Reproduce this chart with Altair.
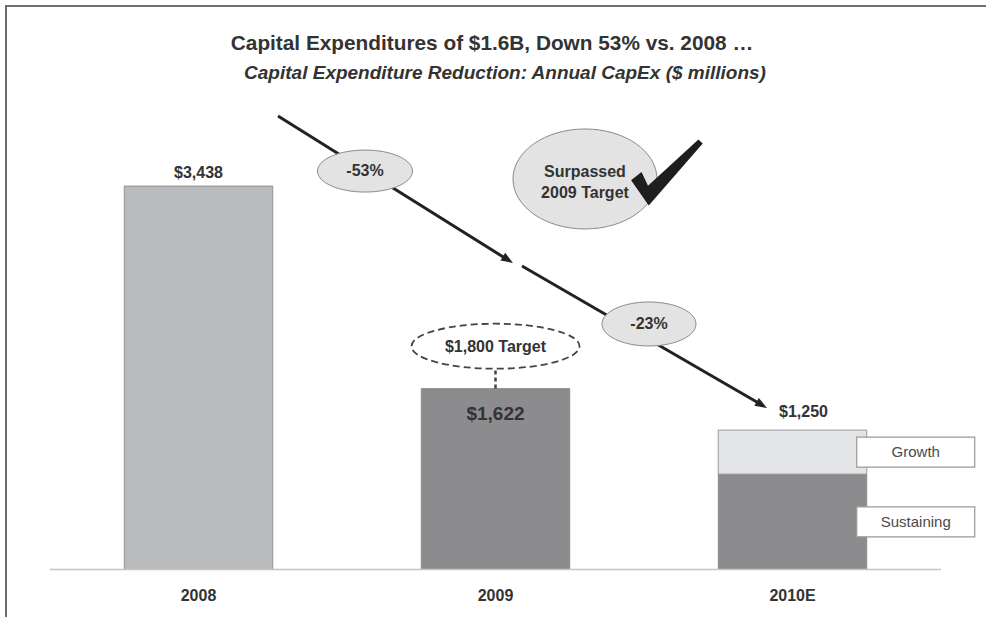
import altair as alt
import pandas as pd

# ---------------- data ----------------
categories = ["2008", "2009", "2010E"]
segment_category = ["2008", "2009", "2010E", "2010E"]
segment_names = ["2008", "2009", "Sustaining", "Growth"]
segment_values = [3438, 1622, 855, 395]
total_values = [3438, 1622, 1250]
total_labels = ["$3,438", "$1,622", "$1,250"]
target_value = 1800
target_label = "$1,800 Target"
change_labels = ["-53%", "-23%"]
legend_names = ["Growth", "Sustaining"]
title_text = "Capital Expenditures of $1.6B, Down 53% vs. 2008 \u2026"
subtitle_text = "Capital Expenditure Reduction: Annual CapEx ($ millions)"
callout_lines = ["Surpassed", "2009 Target"]

# ---------------- tables ----------------
idx = {c: i for i, c in enumerate(categories)}
rows, run = [], {}
for cat, name, val in zip(segment_category, segment_names, segment_values):
    s = run.get(cat, 0)
    rows.append(dict(category=cat, segment=name, idx=idx[cat], start=s, end=s + val,
                     mid=s + val / 2, left=idx[cat] - 0.25, right=idx[cat] + 0.25))
    run[cat] = s + val
seg_df = pd.DataFrame(rows)
tot_df = pd.DataFrame(dict(category=categories, idx=list(range(len(categories))),
                           total=total_values, label=total_labels))
tgt_df = pd.DataFrame(dict(category=["2009"], idx=[idx["2009"]],
                           actual=[total_values[1]], target=[target_value], label=[target_label]))
leg_df = seg_df[seg_df.segment.isin(legend_names)]
one = pd.DataFrame({"k": [0]})

FONT = "Liberation Sans"
TXT = "#333333"
xs = alt.Scale(domain=[-0.5, 2.5], range=[50, 941], nice=False, zero=False)
ys = alt.Scale(domain=[0, 3438], range=[569.5, 186], nice=False, zero=False)


def X(f):
    return alt.X(f, type="quantitative", scale=xs, axis=None)


def Y(f):
    return alt.Y(f, type="quantitative", scale=ys, axis=None)


def XD(v):
    return alt.XDatum(v, scale=xs, axis=None)


def YD(v):
    return alt.YDatum(v, scale=ys, axis=None)


def ellipse(rx_ratio):
    return f"M -1 0 A 1 {rx_ratio} 0 1 1 1 0 A 1 {rx_ratio} 0 1 1 -1 0 Z"


layers = []

# frame lines
layers.append(alt.Chart(one).mark_rule(color="#6e6e6e", strokeWidth=2).encode(
    x=alt.value(5), x2=alt.value(986), y=alt.value(6)))
layers.append(alt.Chart(one).mark_rule(color="#6e6e6e", strokeWidth=2).encode(
    x=alt.value(6), y=alt.value(5), y2=alt.value(617)))

# titles
layers.append(alt.Chart(one).mark_text(text=title_text, font=FONT, fontSize=20.8, fontWeight="bold",
                                       color=TXT, align="center", baseline="middle").encode(
    x=alt.value(492), y=alt.value(44)))
layers.append(alt.Chart(one).mark_text(text=subtitle_text, font=FONT, fontSize=19, fontWeight="bold",
                                       fontStyle="italic", color=TXT, align="center",
                                       baseline="middle").encode(
    x=alt.value(505), y=alt.value(73)))

# bars
layers.append(alt.Chart(seg_df).mark_bar(stroke="#7a7a7a", strokeWidth=1, strokeOpacity=0.7).encode(
    x=X("left"), x2="right", y=Y("start"), y2="end",
    color=alt.Color("segment:N", legend=None,
                    scale=alt.Scale(domain=segment_names,
                                    range=["#b9babc", "#8c8c8e", "#8c8c8e", "#e3e4e6"]))))

# baseline
layers.append(alt.Chart(one).mark_rule(color="#c4c4c4", strokeWidth=1.5).encode(
    x=XD(-0.5), x2=alt.X2Datum(2.5), y=YD(0)))

# category labels
layers.append(alt.Chart(tot_df).mark_text(font=FONT, fontSize=16, fontWeight="bold", color=TXT,
                                          baseline="middle", dy=26).encode(
    x=X("idx"), y=alt.Y("zero:Q", scale=ys, axis=None), text="category:N").transform_calculate(zero="0"))

# value labels
base_lbl = alt.Chart(tot_df).encode(x=X("idx"), y=Y("total"), text="label:N")
layers.append(base_lbl.mark_text(font=FONT, fontSize=16, fontWeight="bold", color=TXT,
                                 baseline="middle", dy=-13).transform_filter(alt.datum.category == "2008"))
layers.append(base_lbl.mark_text(font=FONT, fontSize=19, fontWeight="bold", color=TXT,
                                 baseline="middle", dy=25).transform_filter(alt.datum.category == "2009"))
layers.append(base_lbl.mark_text(font=FONT, fontSize=16, fontWeight="bold", color=TXT,
                                 baseline="middle", dy=-18, dx=11).transform_filter(alt.datum.category == "2010E"))

# target connector and dashed ellipse
layers.append(alt.Chart(tgt_df).mark_rule(color="#444444", strokeWidth=2.5, strokeDash=[4, 3]).encode(
    x=X("idx"), y=Y("actual"), y2="target"))
layers.append(alt.Chart(tgt_df).mark_point(shape=ellipse(0.268), size=168 * 168, filled=True, fill="white",
                                           stroke="#444444", strokeWidth=1.8, strokeDash=[7, 4],
                                           opacity=1, yOffset=-22.5).encode(x=X("idx"), y=Y("target")))
layers.append(alt.Chart(tgt_df).mark_text(font=FONT, fontSize=16, fontWeight="bold", color=TXT,
                                          baseline="middle", dy=-22).encode(
    x=X("idx"), y=Y("target"), text="label:N"))

# trend arrows
for (x0, y0, x1, y1, xt, yt, ang) in [(0.2677, 4065, 1.0421, 2775, 1.0589, 2748, 32.0),
                                       (1.0892, 2721, 1.8973, 1475, 1.9141, 1448, 30.1)]:
    layers.append(alt.Chart(one).mark_rule(color="#222222", strokeWidth=3).encode(
        x=XD(x0), y=YD(y0), x2=alt.X2Datum(x1), y2=alt.Y2Datum(y1)))
    layers.append(alt.Chart(one).mark_point(shape="M 0 0 L -2 -0.75 L -2 0.75 Z", size=144, angle=ang,
                                            filled=True, color="#222222", opacity=1).encode(
        x=XD(xt), y=YD(yt)))

# change ellipses
for lbl, (cx, cy, w, h) in zip(change_labels, [(0.5606, 3572, 95, 42), (1.5168, 2201, 94, 44)]):
    layers.append(alt.Chart(one).mark_point(shape=ellipse(h / w), size=w * w, filled=True, fill="#e3e3e3",
                                            stroke="#8a8a8a", strokeWidth=1, opacity=1).encode(
        x=XD(cx), y=YD(cy)))
    layers.append(alt.Chart(one).mark_text(text=lbl, font=FONT, fontSize=16, fontWeight="bold", color=TXT,
                                           baseline="middle").encode(x=XD(cx), y=YD(cy)))

# surpassed callout
layers.append(alt.Chart(one).mark_point(shape=ellipse(100 / 144), size=144 * 144, filled=True, fill="#e3e3e3",
                                        stroke="#8a8a8a", strokeWidth=1, opacity=1).encode(
    x=XD(1.3013), y=YD(3501)))
layers.append(alt.Chart(one).mark_text(text=callout_lines, font=FONT, fontSize=16, fontWeight="bold",
                                       color=TXT, baseline="middle", lineHeight=21, dy=-7).encode(
    x=XD(1.3013), y=YD(3501)))
check = ("M -0.97 0.2 L -0.68 -0.03 L -0.5 0.35 L 0.9 -0.93 L 1.02 -0.82 L -0.48 0.9 Z")
layers.append(alt.Chart(one).mark_point(shape=check, size=72 * 72, filled=True, color="#1e1e1e",
                                        opacity=1).encode(x=XD(1.5741), y=YD(3554)))

# legend boxes
layers.append(alt.Chart(leg_df).mark_rect(fill="white", stroke="#999999", strokeWidth=1.2,
                                          xOffset=-10, x2Offset=108, yOffset=-15, y2Offset=15).encode(
    x=X("right"), x2="right", y=Y("mid"), y2="mid"))
layers.append(alt.Chart(leg_df).mark_text(font=FONT, fontSize=15, color="#4a4a4a", baseline="middle",
                                          dx=49).encode(x=X("right"), y=Y("mid"), text="segment:N"))

chart = alt.layer(*layers).properties(
    width=986, height=617, autosize=alt.AutoSizeParams(type="none"), padding=0,
    background="white"
).configure_view(stroke=None)

chart.save("out.html", embed_options={"renderer": "svg", "actions": False})
